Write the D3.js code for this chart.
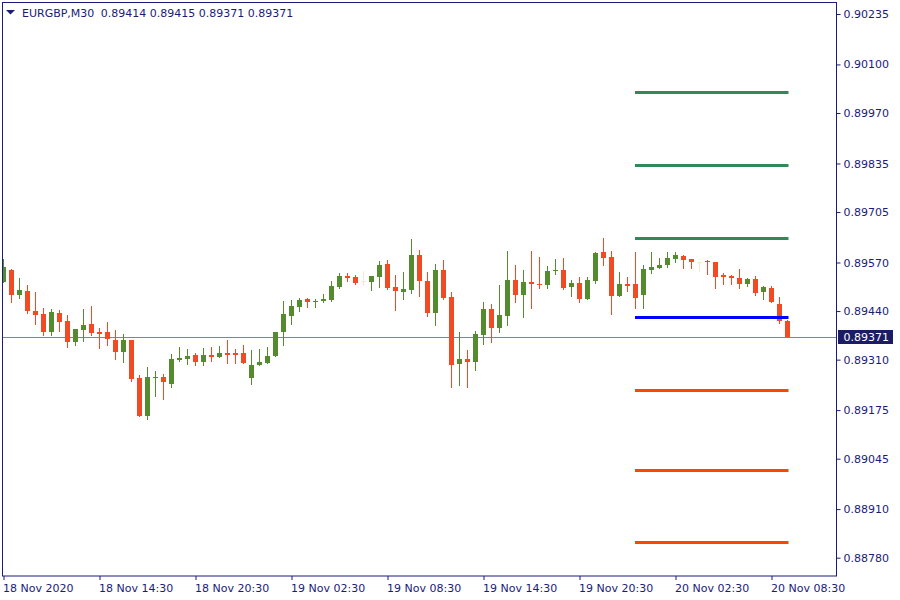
<!DOCTYPE html>
<html><head><meta charset="utf-8">
<script src="https://cdn.jsdelivr.net/npm/d3@7/dist/d3.min.js"></script>
<style>html,body{margin:0;padding:0;background:#fff;}svg{display:block;}</style>
</head><body>
<script>
const symbolLabel = "EURGBP,M30";
const titleValues = ["0.89414", "0.89415", "0.89371", "0.89371"];
const currentPrice = 0.89371;

const opens = [0.89519,0.89550,0.89483,0.89494,0.89440,0.89432,0.89385,0.89435,0.89414,0.89356,
0.89389,0.89406,0.89384,0.89384,0.89363,0.89331,0.89363,0.89261,0.89160,0.89262,
0.89264,0.89246,0.89310,0.89313,0.89323,0.89305,0.89323,0.89318,0.89328,0.89328,
0.89328,0.89262,0.89296,0.89302,0.89321,0.89385,0.89428,0.89452,0.89472,0.89463,
0.89468,0.89470,0.89505,0.89534,0.89531,0.89520,0.89519,0.89532,0.89566,0.89505,
0.89492,0.89497,0.89590,0.89521,0.89436,0.89550,0.89478,0.89299,0.89312,0.89305,
0.89377,0.89446,0.89396,0.89428,0.89523,0.89484,0.89518,0.89513,0.89511,0.89546,
0.89550,0.89505,0.89515,0.89473,0.89521,0.89598,0.89585,0.89481,0.89513,0.89513,
0.89484,0.89551,0.89556,0.89562,0.89580,0.89587,0.89579,0.89571,0.89574,0.89571,
0.89537,0.89534,0.89529,0.89513,0.89526,0.89492,0.89502,0.89459,0.89414];

const highs = [0.89579,0.89553,0.89529,0.89510,0.89491,0.89448,0.89446,0.89443,0.89430,0.89392,
0.89446,0.89454,0.89395,0.89411,0.89389,0.89379,0.89363,0.89269,0.89291,0.89280,
0.89272,0.89325,0.89344,0.89339,0.89328,0.89341,0.89344,0.89347,0.89363,0.89339,
0.89349,0.89336,0.89339,0.89344,0.89384,0.89467,0.89470,0.89475,0.89475,0.89472,
0.89486,0.89521,0.89542,0.89542,0.89537,0.89547,0.89534,0.89574,0.89577,0.89537,
0.89545,0.89633,0.89604,0.89545,0.89566,0.89577,0.89491,0.89384,0.89336,0.89387,
0.89464,0.89459,0.89510,0.89601,0.89563,0.89550,0.89601,0.89585,0.89560,0.89579,
0.89582,0.89523,0.89531,0.89531,0.89598,0.89636,0.89601,0.89545,0.89531,0.89598,
0.89563,0.89598,0.89582,0.89598,0.89598,0.89590,0.89579,0.89571,0.89577,0.89571,
0.89542,0.89537,0.89553,0.89529,0.89534,0.89507,0.89507,0.89478,0.89415];

const lows = [0.89519,0.89465,0.89476,0.89435,0.89406,0.89376,0.89376,0.89388,0.89345,0.89348,
0.89361,0.89377,0.89342,0.89350,0.89313,0.89305,0.89254,0.89160,0.89152,0.89214,
0.89206,0.89238,0.89307,0.89299,0.89297,0.89297,0.89307,0.89318,0.89302,0.89302,
0.89302,0.89246,0.89296,0.89302,0.89321,0.89350,0.89406,0.89439,0.89452,0.89452,
0.89463,0.89468,0.89503,0.89521,0.89513,0.89510,0.89497,0.89505,0.89500,0.89444,
0.89473,0.89489,0.89481,0.89428,0.89404,0.89471,0.89238,0.89243,0.89238,0.89281,
0.89353,0.89356,0.89385,0.89404,0.89463,0.89425,0.89449,0.89503,0.89503,0.89538,
0.89500,0.89479,0.89463,0.89473,0.89516,0.89562,0.89433,0.89481,0.89495,0.89449,
0.89447,0.89543,0.89554,0.89559,0.89572,0.89556,0.89556,0.89548,0.89540,0.89503,
0.89513,0.89513,0.89503,0.89508,0.89484,0.89473,0.89465,0.89409,0.89371];

const closes = [0.89559,0.89483,0.89496,0.89439,0.89430,0.89385,0.89438,0.89411,0.89356,0.89392,
0.89403,0.89382,0.89379,0.89366,0.89331,0.89363,0.89259,0.89160,0.89264,0.89264,
0.89251,0.89312,0.89315,0.89320,0.89305,0.89323,0.89317,0.89328,0.89323,0.89323,
0.89302,0.89296,0.89304,0.89320,0.89384,0.89432,0.89454,0.89470,0.89463,0.89467,
0.89472,0.89507,0.89534,0.89529,0.89516,0.89520,0.89534,0.89563,0.89503,0.89495,
0.89499,0.89590,0.89521,0.89436,0.89550,0.89476,0.89297,0.89312,0.89305,0.89379,
0.89446,0.89396,0.89430,0.89523,0.89484,0.89518,0.89513,0.89511,0.89547,0.89550,
0.89503,0.89515,0.89473,0.89523,0.89596,0.89583,0.89481,0.89513,0.89508,0.89476,
0.89553,0.89558,0.89563,0.89582,0.89590,0.89578,0.89570,0.89571,0.89570,0.89532,
0.89532,0.89529,0.89513,0.89526,0.89489,0.89505,0.89465,0.89414,0.89371];

const xTickBars = [0, 12, 24, 36, 48, 60, 72, 84, 96];
const xTickLabels = ["18 Nov 2020","18 Nov 14:30","18 Nov 20:30","19 Nov 02:30","19 Nov 08:30","19 Nov 14:30","19 Nov 20:30","20 Nov 02:30","20 Nov 08:30"];
const yTickValues = [0.90235,0.90100,0.89970,0.89835,0.89705,0.89570,0.89440,0.89310,0.89175,0.89045,0.88910,0.88780];

const levelNames = ["R3","R2","R1","P","S1","S2","S3"];
const levelPrices = [0.90024, 0.89829, 0.89634, 0.89423, 0.89227, 0.89014, 0.88820];
const levelKinds = ["res","res","res","pivot","sup","sup","sup"];
const levelStartBar = 79, levelEndBar = 98;

const W = 900, H = 600;
const plotL = 2, plotR = 836, plotT = 2, plotB = 576;
const navy = "#1b1b78";
const bullColor = "#558b2f", bearColor = "#f24b24", dojiColor = "#f7e6da";
const levelColor = {res: "#2e8b57", pivot: "#0000ff", sup: "#ff4500"};
const FONT = "DejaVu Sans, sans-serif";

const nBars = opens.length;
const x = d3.scaleLinear().domain([0, nBars - 1]).range([3.5, 3.5 + 8 * (nBars - 1)]);
const y = d3.scaleLinear().domain([0.88780, 0.90235]).range([557.7, 14]);

const svg = d3.select("body").append("svg").attr("width", W).attr("height", H);
svg.append("rect").attr("width", W).attr("height", H).attr("fill", "#fff");

svg.append("defs").append("clipPath").attr("id", "clip")
  .append("rect").attr("x", plotL + 1).attr("y", plotT + 1)
  .attr("width", plotR - plotL - 1).attr("height", plotB - plotT - 1);

const plot = svg.append("g").attr("clip-path", "url(#clip)");

// current price line
plot.append("line")
  .attr("x1", plotL).attr("x2", plotR)
  .attr("y1", Math.round(y(currentPrice)) + 0.5).attr("y2", Math.round(y(currentPrice)) + 0.5)
  .attr("stroke", "#778899").attr("stroke-width", 1);

const bars = d3.range(nBars).map(i => ({i, o: opens[i], h: highs[i], l: lows[i], c: closes[i]}));
const col = d => d.c > d.o ? bullColor : (d.c < d.o ? bearColor : dojiColor);

const g = plot.append("g");
g.selectAll("rect.wick").data(bars).join("rect").attr("class", "wick")
  .attr("x", d => Math.floor(x(d.i)))
  .attr("width", 1)
  .attr("y", d => Math.round(y(d.h)))
  .attr("height", d => Math.max(1, Math.round(y(d.l)) - Math.round(y(d.h)) + 1))
  .attr("fill", col);
g.selectAll("rect.body").data(bars).join("rect").attr("class", "body")
  .attr("x", d => Math.floor(x(d.i)) - 2)
  .attr("width", 5)
  .attr("y", d => Math.round(y(Math.max(d.o, d.c))))
  .attr("height", d => Math.max(1, Math.round(y(Math.min(d.o, d.c))) - Math.round(y(Math.max(d.o, d.c)))))
  .attr("fill", col);

// levels
const levels = levelPrices.map((p, k) => ({p, kind: levelKinds[k], name: levelNames[k]}));
plot.selectAll("line.level").data(levels).join("line").attr("class", "level")
  .attr("x1", x(levelStartBar) - 0.5).attr("x2", x(levelEndBar) + 1)
  .attr("y1", d => Math.floor(y(d.p)) + 0.5).attr("y2", d => Math.floor(y(d.p)) + 0.5)
  .attr("stroke", d => levelColor[d.kind]).attr("stroke-width", 3);

// border
svg.append("rect").attr("x", plotL + 0.5).attr("y", plotT + 0.5)
  .attr("width", plotR - plotL).attr("height", plotB - plotT - 0.5)
  .attr("fill", "none").attr("stroke", navy).attr("stroke-width", 1);

// x axis
const xAxis = d3.axisBottom(x).tickValues(xTickBars)
  .tickFormat((d, k) => xTickLabels[k]).tickSize(4).tickPadding(4).tickSizeOuter(0);
const gx = svg.append("g").attr("transform", `translate(0,${plotB})`).call(xAxis);
gx.select(".domain").remove();
gx.selectAll(".tick line").attr("stroke", navy);
gx.selectAll(".tick text").attr("fill", navy).attr("text-anchor", "start").attr("dx", -1)
  .style("font-family", FONT).style("font-size", "11px");

// y axis
const yAxis = d3.axisRight(y).tickValues(yTickValues).tickFormat(d3.format(".5f"))
  .tickSize(4).tickPadding(3).tickSizeOuter(0);
const gy = svg.append("g").attr("transform", `translate(${plotR + 0.5},0)`).call(yAxis);
gy.select(".domain").remove();
gy.selectAll(".tick line").attr("stroke", navy);
gy.selectAll(".tick text").attr("fill", navy)
  .style("font-family", FONT).style("font-size", "11px");

// current price tag
const cy = y(currentPrice);
svg.append("rect").attr("x", 838).attr("y", Math.round(cy) - 7).attr("width", 55).attr("height", 14).attr("fill", "#1c1c64");
svg.append("text").attr("x", 843.5).attr("y", cy).attr("dy", "0.35em")
  .attr("fill", "#fff").style("font-family", FONT).style("font-size", "11px")
  .text(d3.format(".5f")(currentPrice));

// title
svg.append("path").attr("d", "M6,10 L15,10 L10.5,14.5 Z").attr("fill", navy);
svg.append("text").attr("x", 22).attr("y", 17).attr("fill", navy)
  .style("font-family", FONT).style("font-size", "11px").text(symbolLabel);
svg.append("text").attr("x", 100.7).attr("y", 17).attr("fill", navy)
  .style("font-family", FONT).style("font-size", "11px").text(titleValues.join(" "));
</script>
</body></html>
